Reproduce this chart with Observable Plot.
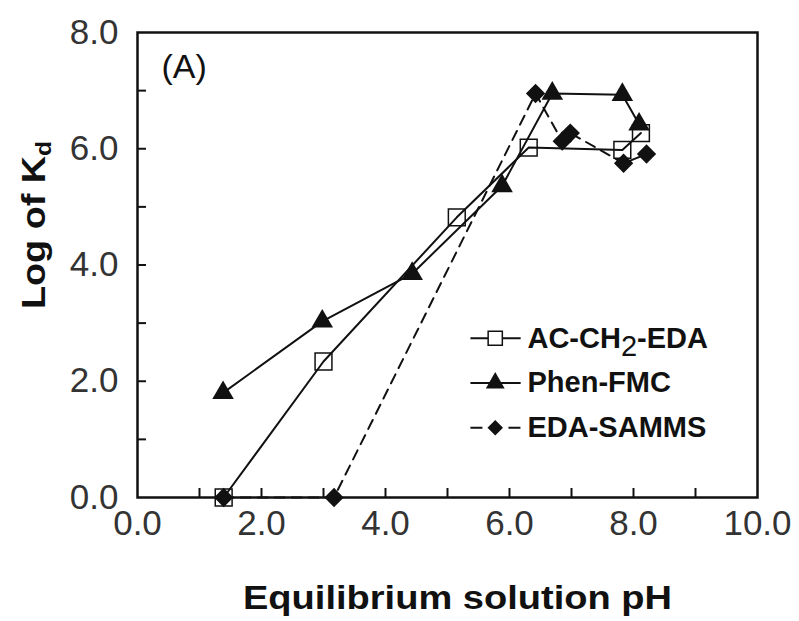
<!DOCTYPE html>
<html><head><meta charset="utf-8">
<script src="https://cdn.jsdelivr.net/npm/d3@7"></script>
<script src="https://cdn.jsdelivr.net/npm/@observablehq/plot@0.6"></script>
<style>
html,body{margin:0;padding:0;background:#fff;}
#chart svg{display:block;}
</style>
</head><body><div id="chart"></div>
<script>
// ---- data ----
const seriesNames = ["AC-CH2-EDA", "Phen-FMC", "EDA-SAMMS"];
const acPH      = [1.39, 3.00, 5.15, 6.31, 7.82, 8.12];
const acLogKd   = [0.00, 2.34, 4.82, 6.02, 5.98, 6.27];
const phenPH    = [1.38, 2.98, 4.43, 5.88, 6.69, 7.82, 8.09];
const phenLogKd = [1.80, 3.03, 3.85, 5.36, 6.95, 6.93, 6.42];
const edaPH     = [1.39, 3.17, 6.42, 6.85, 6.98, 7.84, 8.21];
const edaLogKd  = [0.00, 0.00, 6.95, 6.13, 6.27, 5.75, 5.91];
const xTickLabels = [0, 2, 4, 6, 8, 10];
const yTickLabels = [0, 2, 4, 6, 8];
const xMinorTicks = [1, 2, 3, 4, 5, 6, 7, 8, 9];
const yMinorTicks = [1, 2, 3, 4, 5, 6, 7];
const xTitle = "Equilibrium solution pH";
const yTitle = "Log of K";   // subscript "d" added below
const yTitleSub = "d";
const panelLabel = "(A)";

// ---- layout ----
const W = 799, H = 621;
const mL = 137, mR = 42, mT = 32, mB = 124;
const frameW = W - mL - mR, frameH = H - mT - mB;
const ink = "#111";
const tickInk = "#333";

const toPts = (xs, ys) => xs.map((x, i) => ({x, y: ys[i]}));
const ac = toPts(acPH, acLogKd);
const phen = toPts(phenPH, phenLogKd);
const eda = toPts(edaPH, edaLogKd);

// legend rows placed in data space
const legend = seriesNames.map((name, i) => ({name, i, y: 2.74 - i * 0.77}));
const legX1 = 5.37, legX2 = 6.18, legXm = 5.77, legXt = 6.29;

const plot = Plot.plot({
  width: W, height: H,
  marginLeft: mL, marginRight: mR, marginTop: mT, marginBottom: mB,
  style: {fontFamily: "'Liberation Sans', Arial, sans-serif", color: ink, background: "#fff"},
  x: {domain: [0, 10]},
  y: {domain: [0, 8]},
  marks: [
    Plot.tickX(xMinorTicks, {x: d => d, insetTop: frameH - 9, stroke: ink, strokeWidth: 2}),
    Plot.tickY(yMinorTicks, {y: d => d, insetRight: frameW - 9, stroke: ink, strokeWidth: 2}),
    Plot.axisX({ticks: xTickLabels, tickSize: 0, tickPadding: 13, tickFormat: d3.format(".1f"), fontSize: 35, fill: tickInk, label: null}),
    Plot.axisY({ticks: yTickLabels, tickSize: 0, tickPadding: 19, tickFormat: d3.format(".1f"), fontSize: 35, fill: tickInk, label: null}),
    Plot.frame({stroke: ink, strokeWidth: 2.5}),
    // series lines
    Plot.line(ac, {x: "x", y: "y", stroke: ink, strokeWidth: 2}),
    Plot.line(phen, {x: "x", y: "y", stroke: ink, strokeWidth: 2}),
    Plot.line(eda, {x: "x", y: "y", stroke: ink, strokeWidth: 2, strokeDasharray: "10,7"}),
    // markers
    Plot.dot(ac, {x: "x", y: "y", symbol: "square", r: 9.5, fill: "none", stroke: ink, strokeWidth: 1.5}),
    Plot.dot(eda, {x: "x", y: "y", symbol: "diamond2", r: 8.7, fill: ink, stroke: "none"}),
    Plot.dot(phen, {x: "x", y: "y", symbol: "triangle", r: 8, fill: ink, stroke: "none"}),
    // legend
    Plot.link(legend.filter(d => d.i < 2), {x1: legX1, x2: legX2, y1: "y", y2: "y", stroke: ink, strokeWidth: 2}),
    Plot.link(legend.filter(d => d.i === 2), {x1: legX1, x2: legX2, y1: "y", y2: "y", stroke: ink, strokeWidth: 2, strokeDasharray: "12,26"}),
    Plot.dot(legend.filter(d => d.i === 0), {x: legXm, y: "y", symbol: "square", r: 8, fill: "white", stroke: ink, strokeWidth: 1.5}),
    Plot.dot(legend.filter(d => d.i === 1), {x: legXm, y: "y", symbol: "triangle", r: 7, fill: ink, stroke: "none"}),
    Plot.dot(legend.filter(d => d.i === 2), {x: legXm, y: "y", symbol: "diamond2", r: 7, fill: ink, stroke: "none"}),
    Plot.text(legend, {x: legXt, y: "y", text: "name", textAnchor: "start", lineAnchor: "middle", fontSize: 29, fontWeight: "bold", fill: ink}),
    // titles
    Plot.text([panelLabel], {text: d => d, frameAnchor: "top-left", dx: 24, dy: 45, textAnchor: "start", lineAnchor: "bottom", fontSize: 34, fill: ink}),
    Plot.text([xTitle], {text: d => d, frameAnchor: "bottom", dx: 10, dy: 111, textAnchor: "middle", lineAnchor: "bottom", fontSize: 33, fontWeight: "bold", fill: ink}),
    Plot.text([yTitle], {text: d => d, frameAnchor: "left", dx: -103, dy: -40, rotate: -90, textAnchor: "middle", lineAnchor: "middle", fontSize: 34, fontWeight: "bold", fill: ink})
  ]
});

document.getElementById("chart").appendChild(plot);

// subscripts and glyph widening to match the reference's stretched lettering
const NS = "http://www.w3.org/2000/svg";
function tspan(txt, attrs) {
  const s = document.createElementNS(NS, "tspan");
  s.textContent = txt;
  for (const k in attrs) s.setAttribute(k, attrs[k]);
  return s;
}
plot.querySelectorAll("text").forEach(t => {
  const c = t.textContent;
  if (c === "AC-CH2-EDA") {
    t.textContent = "";
    t.appendChild(document.createTextNode("AC-CH"));
    t.appendChild(tspan("2", {"baseline-shift": "-0.28em", "font-weight": "normal"}));
    t.appendChild(document.createTextNode("-EDA"));
  } else if (c === yTitle) {
    t.appendChild(tspan(yTitleSub, {"baseline-shift": "-0.25em", "font-size": "65%"}));
    t.setAttribute("textLength", 168);
    t.setAttribute("lengthAdjust", "spacingAndGlyphs");
  } else if (c === xTitle) {
    t.setAttribute("textLength", 429);
    t.setAttribute("lengthAdjust", "spacingAndGlyphs");
  }
});
</script>
</body></html>
